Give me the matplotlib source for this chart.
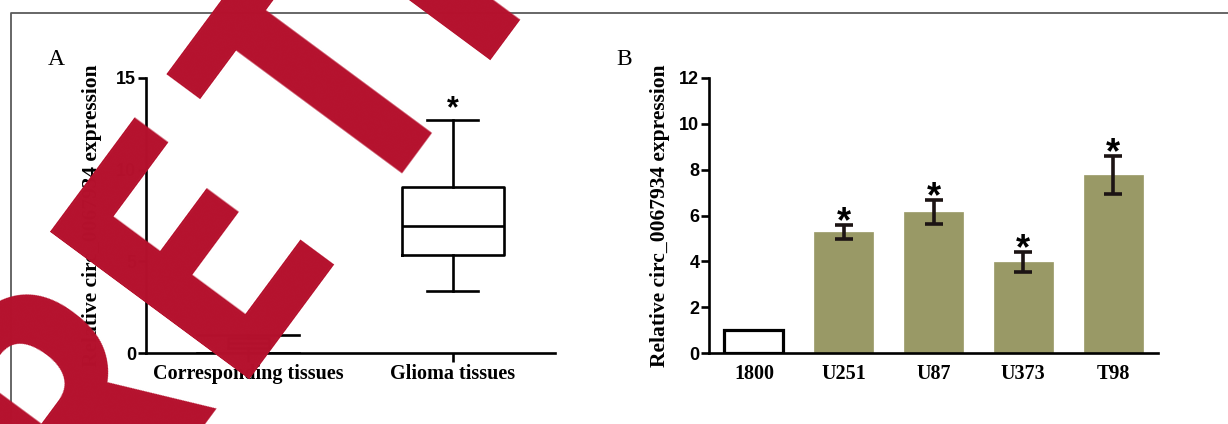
import matplotlib
matplotlib.use("Agg")
import matplotlib.pyplot as plt
from matplotlib.lines import Line2D
from matplotlib import font_manager as fm

# ---------------- data ----------------
groups_A = ["Corresponding tissues", "Glioma tissues"]
whislo_A = [0.0, 3.4]
q1_A = [0.3, 5.35]
med_A = [0.55, 6.93]
q3_A = [0.8, 9.05]
whishi_A = [1.0, 12.7]
sig_A = [False, True]

cells_B = ["1800", "U251", "U87", "U373", "T98"]
means_B = [1.0, 5.29, 6.15, 3.97, 7.78]
err_B = [0.0, 0.30, 0.53, 0.45, 0.83]
sig_B = [False, True, True, True, True]

yticks_A = [0, 5, 10, 15]
yticks_B = [0, 2, 4, 6, 8, 10, 12]
ylabel = "Relative circ_0067934 expression"
watermark = ["R", "E", "T", "R"]

W, H = 1228, 424
fig = plt.figure(figsize=(W / 100, H / 100), dpi=100)

def fx(x):
    return x / W

def fy(y):
    return 1 - y / H

SANS_B = dict(family="Liberation Sans", weight="bold")
SERIF_B = dict(family="Liberation Serif", weight="bold")
LW = 1.9

# frame
fig.add_artist(Line2D([fx(11), fx(11), fx(W + 5)], [fy(H + 5), fy(12.5), fy(12.5)],
                      color="#5a5a5a", lw=1.3, zorder=0))

def style_axes(ax):
    ax.set_facecolor("none")
    for s in ["top", "right"]:
        ax.spines[s].set_visible(False)
    for s in ["left", "bottom"]:
        ax.spines[s].set_linewidth(LW)
        ax.spines[s].set_color("black")
        ax.spines[s].set_capstyle("projecting")
    ax.tick_params(axis="y", direction="out", length=6, width=LW, pad=1,
                   labelsize=13, colors="black")
    for lab in ax.get_yticklabels():
        lab.set_fontfamily("Liberation Sans")
        lab.set_fontweight("bold")

# ---------------- Panel A ----------------
axA = fig.add_axes([fx(146), fy(353), fx(555) - fx(146), fy(78) - fy(353)])
stats = []
for i in range(len(groups_A)):
    stats.append(dict(whislo=whislo_A[i], q1=q1_A[i], med=med_A[i], q3=q3_A[i],
                      whishi=whishi_A[i], fliers=[], label=groups_A[i]))
lineprops = dict(color="black", linewidth=LW)
axA.bxp(stats, positions=[1, 2], widths=[0.2, 0.5], capwidths=[0.5, 0.25], showfliers=False,
        boxprops=lineprops, whiskerprops=lineprops, capprops=lineprops,
        medianprops=lineprops)
axA.set_xlim(0.5, 2.5)
axA.set_ylim(0, 15)
axA.set_yticks(yticks_A)
style_axes(axA)
axA.tick_params(axis="x", direction="out", length=6.5, width=LW, pad=1.5)
axA.set_xticks([1, 2])
axA.set_xticklabels(groups_A, fontsize=14.5, **SERIF_B)
for i in range(len(groups_A)):
    if sig_A[i]:
        axA.annotate("*", (i + 1, whishi_A[i]), xytext=(0, 3), textcoords="offset pixels",
                     ha="center", va="baseline", fontsize=22, **SANS_B)
axA.set_ylabel(ylabel, fontsize=15.5, **SERIF_B)
axA.yaxis.set_label_coords(-0.107, 0.5)

# ---------------- Panel B ----------------
axB = fig.add_axes([fx(709), fy(353), fx(1158) - fx(709), fy(78) - fy(353)])
xs = list(range(len(cells_B)))
colors = ["white"] + ["#999966"] * (len(cells_B) - 1)
edges = ["black"] + ["#999966"] * (len(cells_B) - 1)
lws = [2.3] + [0.5] * (len(cells_B) - 1)
axB.bar(xs, means_B, width=0.655, color=colors, edgecolor=edges, linewidth=lws, zorder=2)
axB.errorbar(xs[1:], means_B[1:], yerr=err_B[1:], fmt="none", ecolor="#1c1414",
             elinewidth=2.6, capsize=6.2, capthick=2.6, zorder=3)
for i in xs:
    if sig_B[i]:
        axB.annotate("*", (i, means_B[i] + err_B[i]), xytext=(0, -7), textcoords="offset pixels",
                     ha="center", va="baseline", fontsize=26, **SANS_B)
axB.set_xlim(-0.5, 4.5)
axB.set_ylim(0, 12)
axB.set_yticks(yticks_B)
style_axes(axB)
axB.tick_params(axis="x", length=0, pad=8)
axB.set_xticks(xs)
axB.set_xticklabels(cells_B, fontsize=14.5, **SERIF_B)
axB.set_ylabel(ylabel, fontsize=15.5, **SERIF_B)
axB.yaxis.set_label_coords(-0.087, 0.5)

# panel letters
fig.text(fx(56), fy(65), "A", ha="center", va="baseline", fontsize=17, family="Liberation Serif")
fig.text(fx(624), fy(65), "B", ha="center", va="baseline", fontsize=17, family="Liberation Serif")

# ---------------- watermark ----------------
wm_family = "Liberation Sans"
wm_size = 255
for cand, size in [("Roboto Condensed", 252), ("PT Sans Narrow", 256),
                   ("Archivo Narrow", 252), ("Liberation Sans Narrow", 252)]:
    try:
        fm.findfont(fm.FontProperties(family=cand, weight="bold"), fallback_to_default=False)
        wm_family, wm_size = cand, size
        break
    except Exception:
        pass
wm_color = "#b5112d"
wm_rot = 53.5
anchors = [(156, 465), (281, 310), (414, 146), (528, -18)]
for letter, (px, py) in zip(watermark, anchors):
    fig.text(fx(px), fy(py), letter, ha="center", va="baseline", rotation=wm_rot,
             rotation_mode="anchor", fontsize=wm_size, color=wm_color, zorder=10,
             family=wm_family, weight="bold")

fig.savefig("out.png", dpi=100)
